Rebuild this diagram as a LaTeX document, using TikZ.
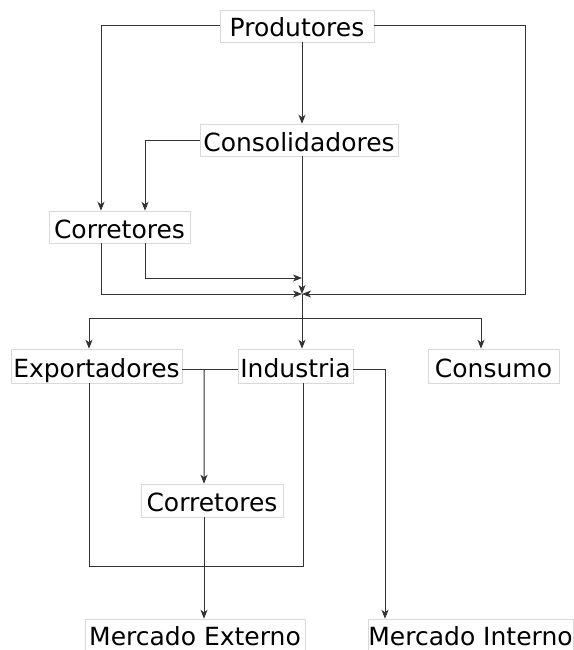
\documentclass[tikz,border=0pt]{standalone}
\usepackage{fontspec}
\setmainfont{DejaVu Sans}
\usetikzlibrary{arrows.meta,calc}
\begin{document}
\begin{tikzpicture}[x=1pt,y=-1pt,
  box/.style={draw=gray!30, line width=0.5pt, font=\fontsize{25}{30}\selectfont, text height=24pt, text depth=2pt, inner sep=0pt},
  ln/.style={draw=black!80, line width=1pt},
  arr/.style={ln, -{Stealth[length=9pt,width=7pt,inset=2.5pt]}}]
\useasboundingbox (0,0) rectangle (573,650);
\node[box, minimum width=154pt, minimum height=32pt] (prod) at (297,26) {Produtores};
\node[box, minimum width=198pt, minimum height=32pt] (cons) at (299,140) {Consolidadores};
\node[box, minimum width=141pt, minimum height=32pt] (corr1) at (119.5,227) {Corretores};
\node[box, minimum width=171pt, minimum height=34pt] (exp) at (96.5,366) {Exportadores};
\node[box, minimum width=115pt, minimum height=34pt] (ind) at (295.5,366) {Industria};
\node[box, minimum width=131pt, minimum height=34pt] (consu) at (493.5,366) {Consumo};
\node[box, minimum width=142pt, minimum height=33pt] (corr2) at (212,500.5) {Corretores};
\node[box, minimum width=220pt, minimum height=31pt] (mext) at (195,634.5) {Mercado Externo};
\node[box, minimum width=205pt, minimum height=31pt] (mint) at (470.5,634.5) {Mercado Interno};
\coordinate (J) at (302,294);
\draw[arr] (prod.south -| J) -- (cons.north -| J);
\draw[arr] (cons.south -| J) -- (J);
\draw[arr] (prod.west) -| ($(corr1.north)+(-18.5,0)$);
\draw[arr] (cons.west) -| ($(corr1.north)+(25.5,0)$);
\draw[arr] ($(corr1.south)+(-18.5,0)$) |- (J);
\draw[arr] ($(corr1.south)+(25.5,0)$) |- ($(J)+(0,-16)$);
\draw[arr] (prod.east) -| ($(J)+(223,0)$) -- (J);
\draw[arr] (J) -- (ind.north -| J);
\coordinate (B) at ($(J)+(0,24)$);
\draw[arr] (B) -| ($(exp.north)+(-7.5,0)$);
\draw[arr] (B) -| ($(consu.north)+(-12.5,0)$);
\draw[ln] ($(exp.east)+(0,3)$) -- ($(ind.west)+(0,3)$);
\draw[arr] ($(exp.east)+(22,3)$) -- ($(corr2.north)+(-8,0)$);
\draw[arr] ($(ind.east)+(0,3)$) -| ($(mint.north)+(-85.5,0)$);
\draw[ln] ($(exp.south)+(-7.5,0)$) |- ($(ind.south)+(7.5,183)$) -- ($(ind.south)+(7.5,0)$);
\draw[arr] ($(corr2.south)+(-8,0)$) -- ($(mext.north)+(9,0)$);
\end{tikzpicture}
\end{document}
